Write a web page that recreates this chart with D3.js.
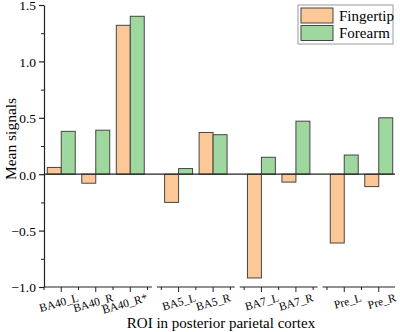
<!DOCTYPE html>
<html>
<head>
<meta charset="utf-8">
<script src="https://cdn.jsdelivr.net/npm/d3@7"></script>
<style>
  body { margin: 0; background: #fff; }
  svg text { font-family: "Liberation Serif", "Times New Roman", serif; fill: #000; }
</style>
</head>
<body>
<div id="chart"></div>
<script>
// Data
const categories = ["BA40_L", "BA40_R", "BA40_R*", "BA5_L", "BA5_R", "BA7_L", "BA7_R", "Pre_L", "Pre_R"];
const groups = [0, 0, 0, 1, 1, 2, 2, 3, 3];
const fingertip = [0.06, -0.08, 1.32, -0.25, 0.37, -0.92, -0.07, -0.61, -0.11];
const forearm = [0.38, 0.39, 1.40, 0.05, 0.35, 0.15, 0.47, 0.17, 0.50];
const seriesNames = ["Fingertip", "Forearm"];
const seriesColors = ["#fdc898", "#9fd89f"];
const yTicks = [-1.0, -0.5, 0.0, 0.5, 1.0, 1.5];

const W = 400, H = 332;
const plotLeft = 44, plotRight = 396, plotTop = 5, plotBottom = 287;
const groupGap = 0.4; // extra space between region groups, in category units

// slot position of each category on the x axis
const slots = categories.map((c, i) => i + groups[i] * groupGap);

const x = d3.scaleLinear()
  .domain([-0.5, slots[slots.length - 1] + 0.5])
  .range([plotLeft, plotRight]);
const y = d3.scaleLinear().domain([-1, 1.5]).range([plotBottom, plotTop]);
const unit = x(1) - x(0);
const barW = unit * 0.405;

const svg = d3.select("#chart").append("svg")
  .attr("width", W).attr("height", H);

// bars
const rows = categories.map((c, i) => ({ c, s: slots[i], v: [fingertip[i], forearm[i]] }));
seriesNames.forEach((name, k) => {
  svg.append("g").selectAll("rect")
    .data(rows)
    .join("rect")
      .attr("x", d => x(d.s) + (k === 0 ? -barW : 0))
      .attr("width", barW)
      .attr("y", d => y(Math.max(0, d.v[k])))
      .attr("height", d => Math.abs(y(d.v[k]) - y(0)))
      .attr("fill", seriesColors[k])
      .attr("stroke", "#454545")
      .attr("stroke-width", 1);
});

// zero line
svg.append("line")
  .attr("x1", plotLeft).attr("x2", plotRight - 1)
  .attr("y1", y(0)).attr("y2", y(0))
  .attr("stroke", "#222").attr("stroke-width", 1.2);

// y axis
const yAxis = svg.append("g")
  .attr("transform", "translate(" + plotLeft + ",0)")
  .call(d3.axisLeft(y).tickValues(yTicks).tickSize(5).tickSizeOuter(0)
    .tickFormat(d3.format(".1f")));
yAxis.selectAll("text").style("font-size", "13.5px").attr("x", -8).attr("dy", "0.36em");
yAxis.selectAll("line, path").attr("stroke", "#222").attr("stroke-width", 1.2);
svg.append("g")
  .attr("transform", "translate(" + plotLeft + ",0)")
  .call(d3.axisLeft(y).tickValues(d3.range(-0.75, 1.5, 0.5)).tickSize(3).tickFormat(""))
  .call(g => g.select(".domain").remove())
  .selectAll("line").attr("stroke", "#222");

// broken x axis, one segment per group
const groupIds = Array.from(new Set(groups));
groupIds.forEach((g, gi) => {
  const idx = groups.map((v, i) => v === g ? i : -1).filter(i => i >= 0);
  const first = slots[idx[0]], last = slots[idx[idx.length - 1]];
  const x0 = gi === 0 ? x(first - 0.5)
    : (x(slots[idx[0] - 1]) + x(first)) / 2 + 2.5;
  const x1 = gi === groupIds.length - 1 ? x(last + 0.5) - 1
    : (x(last) + x(slots[idx[idx.length - 1] + 1])) / 2 - 2.5;

  const seg = svg.append("g").attr("transform", "translate(0," + plotBottom + ")");
  seg.append("line")
    .attr("x1", x0).attr("x2", x1)
    .attr("stroke", "#222").attr("stroke-width", 1.2);
  // major ticks at categories
  seg.selectAll("line.major")
    .data(idx)
    .join("line")
      .attr("class", "major")
      .attr("x1", i => x(slots[i])).attr("x2", i => x(slots[i]))
      .attr("y1", 0).attr("y2", 5)
      .attr("stroke", "#222");
  // minor ticks halfway between categories
  const minors = [first - 0.5].concat(idx.map(i => slots[i] + 0.5))
    .filter(s => x(s) >= x0 - 0.5 && x(s) <= x1 + 0.5);
  seg.selectAll("line.minor")
    .data(minors)
    .join("line")
      .attr("class", "minor")
      .attr("x1", s => x(s)).attr("x2", s => x(s))
      .attr("y1", 0).attr("y2", 3)
      .attr("stroke", "#222");
  // rotated labels
  seg.selectAll("text")
    .data(idx)
    .join("text")
      .attr("transform", i => "translate(" + (x(slots[i]) + 18) + ",14) rotate(-16)")
      .attr("text-anchor", "end")
      .style("font-size", "11.5px")
      .text(i => categories[i]);
});

// axis titles
svg.append("text")
  .attr("x", (plotLeft + plotRight) / 2 + 1).attr("y", 328)
  .attr("text-anchor", "middle")
  .style("font-size", "15px")
  .text("ROI in posterior parietal cortex");

svg.append("text")
  .attr("transform", "translate(16," + 139 + ") rotate(-90)")
  .attr("text-anchor", "middle")
  .style("font-size", "15.5px")
  .text("Mean signals");

// legend
const legend = svg.append("g").attr("transform", "translate(298,5)");
legend.append("rect")
  .attr("width", 95).attr("height", 39)
  .attr("fill", "#fff").attr("stroke", "#9a9a9a").attr("stroke-width", 1);
seriesNames.forEach((name, k) => {
  const row = legend.append("g").attr("transform", "translate(3," + (3 + k * 17.5) + ")");
  row.append("rect")
    .attr("width", 32).attr("height", 15)
    .attr("fill", seriesColors[k]).attr("stroke", "#454545");
  row.append("text")
    .attr("x", 38).attr("y", 12.5)
    .style("font-size", "15px")
    .text(name);
});
</script>
</body>
</html>
